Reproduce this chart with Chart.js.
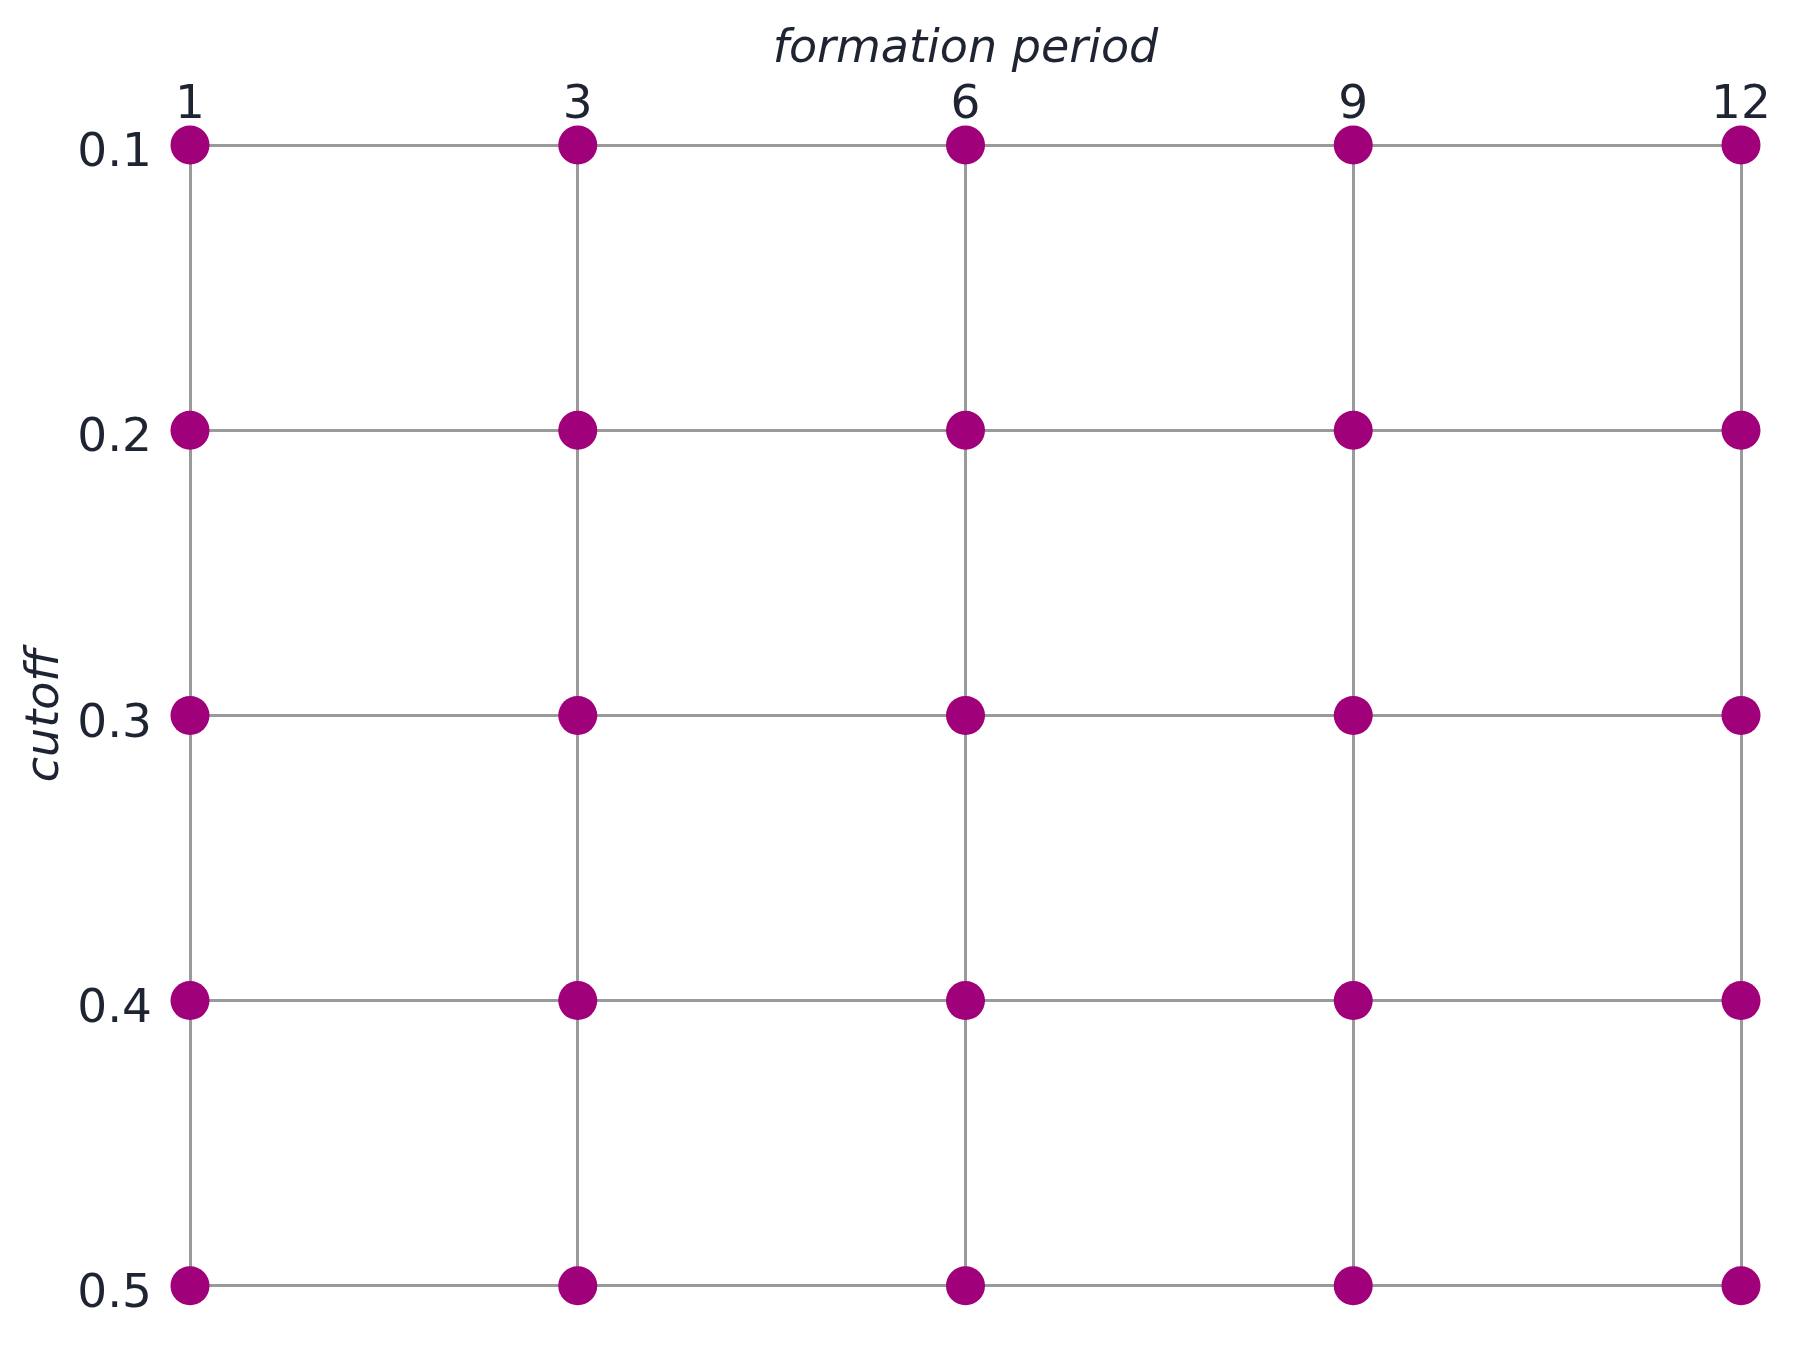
<!DOCTYPE html>
<html>
<head>
<meta charset="utf-8">
<script src="https://cdn.jsdelivr.net/npm/chart.js@4/dist/chart.umd.min.js"></script>
<style>
  html, body { margin: 0; padding: 0; background: #ffffff; }
  #wrap { width: 1801px; height: 1352px; }
</style>
</head>
<body>
<div id="wrap"><canvas id="c" width="1801" height="1352"></canvas></div>
<script>
// Data
const periods = ['1', '3', '6', '9', '12'];           // formation period (x categories)
const cutoffs = ['0.1', '0.2', '0.3', '0.4', '0.5'];   // cutoff (y categories, top to bottom)
const xTitle = 'formation period';
const yTitle = 'cutoff';

const points = [];
cutoffs.forEach(c => periods.forEach(p => points.push({ x: p, y: c })));

const textColor = '#1e2432';
const gridColor = '#9a9a9a';
const fontFamily = '"DejaVu Sans", Verdana, sans-serif';

new Chart(document.getElementById('c'), {
  type: 'scatter',
  data: {
    datasets: [{
      data: points,
      backgroundColor: '#a0007a',
      borderWidth: 0,
      pointRadius: 19.5,
      pointHoverRadius: 19.5,
      clip: false
    }]
  },
  options: {
    responsive: false,
    animation: false,
    layout: { padding: { left: 0, top: 0, right: 60, bottom: 65 } },
    plugins: { legend: { display: false }, tooltip: { enabled: false } },
    scales: {
      x: {
        type: 'category',
        labels: periods,
        position: 'top',
        offset: false,
        grid: { color: gridColor, lineWidth: 3, drawTicks: false },
        border: { display: false },
        ticks: { color: textColor, font: { family: fontFamily, size: 47 }, padding: 11, maxRotation: 0, autoSkip: false },
        title: { display: true, text: xTitle, color: textColor,
                 font: { family: fontFamily, size: 46, style: 'italic' }, padding: { top: 22, bottom: 0 } },
        afterFit: s => { s.height = 145; }
      },
      y: {
        type: 'category',
        labels: cutoffs,
        position: 'left',
        offset: false,
        grid: { color: gridColor, lineWidth: 3, drawTicks: false },
        border: { display: false },
        ticks: { color: textColor, font: { family: fontFamily, size: 47 }, padding: 38, labelOffset: 9, autoSkip: false },
        title: { display: true, text: yTitle, color: textColor,
                 font: { family: fontFamily, size: 46, style: 'italic' }, padding: { top: 18, bottom: 0 } },
        afterFit: s => { s.width = 190; }
      }
    }
  }
});
</script>
</body>
</html>
